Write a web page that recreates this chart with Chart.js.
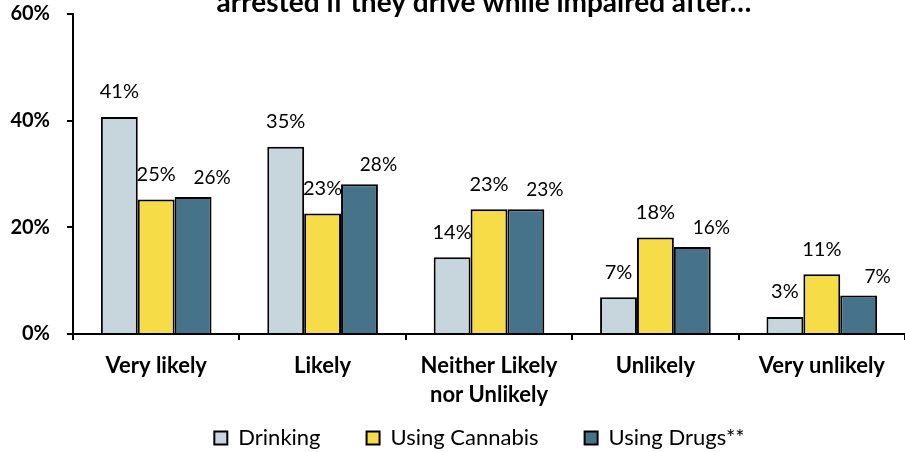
<!DOCTYPE html>
<html>
<head>
<meta charset="utf-8">
<script src="https://cdn.jsdelivr.net/npm/chart.js@4/dist/chart.umd.min.js"></script>
<style>
  html, body { margin: 0; padding: 0; background: #fff; }
  #wrap { width: 905px; height: 452px; }
</style>
</head>
<body>
<div id="wrap"><canvas id="myChart" width="905" height="452"></canvas></div>
<script>
const categories = ['Very likely', 'Likely', ['Neither Likely', 'nor Unlikely'], 'Unlikely', 'Very unlikely'];
const drinking = [40.7, 35.1, 14.4, 6.9, 3.2];
const cannabis = [25.2, 22.6, 23.4, 18.1, 11.2];
const drugs = [25.7, 28.1, 23.4, 16.3, 7.2];
const yTicks = [0, 20, 40, 60];
const titleText = 'arrested if they drive while impaired after\u2026';

const FONT = 'Lato, "Open Sans", sans-serif';

// value labels above the bars
const barLabels = {
  id: 'barLabels',
  afterDatasetsDraw(chart) {
    const c = chart.ctx;
    c.save();
    c.fillStyle = '#000';
    c.textAlign = 'center';
    c.textBaseline = 'middle';
    chart.data.datasets.forEach((ds, i) => {
      const meta = chart.getDatasetMeta(i);
      const o = ds.labelStyle;
      c.font = o.size + 'px ' + FONT;
      meta.data.forEach((bar, j) => {
        c.fillText(Math.round(ds.data[j]) + '%', bar.x + o.dx, bar.y - o.dy);
      });
    });
    c.restore();
  }
};

// title line, cut at the top of the picture
const topTitle = {
  id: 'topTitle',
  afterDraw(chart) {
    const c = chart.ctx;
    c.save();
    c.fillStyle = '#000';
    c.font = 'bold 28px ' + FONT;
    c.textAlign = 'center';
    c.textBaseline = 'alphabetic';
    c.fillText(titleText, 484, 12);
    c.restore();
  }
};

// move the legend up and a bit right of the canvas centre
const legendShift = {
  id: 'legendShift',
  afterLayout(chart) {
    const lg = chart.legend;
    lg.left += 27;
    lg.right += 27;
    lg.top -= 33;
    lg.bottom -= 33;
  }
};

const ctx = document.getElementById('myChart');

new Chart(ctx, {
  type: 'bar',
  data: {
    labels: categories,
    datasets: [{
      label: 'Drinking',
      data: drinking,
      backgroundColor: '#C7D5DC',
      borderColor: '#000',
      borderWidth: 2,
      labelStyle: { dx: 0, dy: 25, size: 20 }
    }, {
      label: 'Using Cannabis',
      data: cannabis,
      backgroundColor: '#F6DC47',
      borderColor: '#000',
      borderWidth: 2,
      labelStyle: { dx: 0, dy: 25, size: 20 }
    }, {
      label: 'Using Drugs**',
      data: drugs,
      backgroundColor: '#46728A',
      borderColor: '#000',
      borderWidth: 2,
      labelStyle: { dx: 19, dy: 19, size: 19 }
    }]
  },
  options: {
    responsive: false,
    animation: false,
    layout: { padding: { top: 14, right: 0, left: 0, bottom: -40 } },
    datasets: {
      bar: { categoryPercentage: 0.665, barPercentage: 1.0 }
    },
    plugins: {
      title: { display: false },
      tooltip: { enabled: false },
      legend: {
        position: 'bottom',
        labels: {
          color: '#000',
          font: { family: FONT, size: 22 },
          boxWidth: 13,
          boxHeight: 13,
          padding: 46
        }
      }
    },
    scales: {
      x: {
        grid: {
          drawOnChartArea: false,
          drawTicks: true,
          tickLength: 6,
          color: '#000',
          lineWidth: 2
        },
        border: { color: '#000', width: 2 },
        ticks: {
          color: '#000',
          font: { family: FONT, size: 22, weight: 'bold', lineHeight: 1.32 },
          padding: 11,
          maxRotation: 0
        },
        afterFit(scale) {
          scale.height = 80;
          scale.paddingLeft = 0;
          scale.paddingRight = 0;
        }
      },
      y: {
        min: 0,
        max: 60,
        afterBuildTicks(scale) { scale.ticks = yTicks.map(v => ({ value: v })); },
        grid: {
          drawOnChartArea: false,
          drawTicks: true,
          tickLength: 6,
          color: '#000',
          lineWidth: 2
        },
        border: { color: '#000', width: 2 },
        ticks: {
          color: '#000',
          font: { family: FONT, size: 20, weight: 'bold' },
          padding: 17,
          callback: v => v + '%'
        },
        afterFit(scale) {
          scale.width = 73;
          scale.paddingTop = 0;
          scale.paddingBottom = 0;
        }
      }
    }
  },
  plugins: [barLabels, topTitle, legendShift]
});
</script>
</body>
</html>
